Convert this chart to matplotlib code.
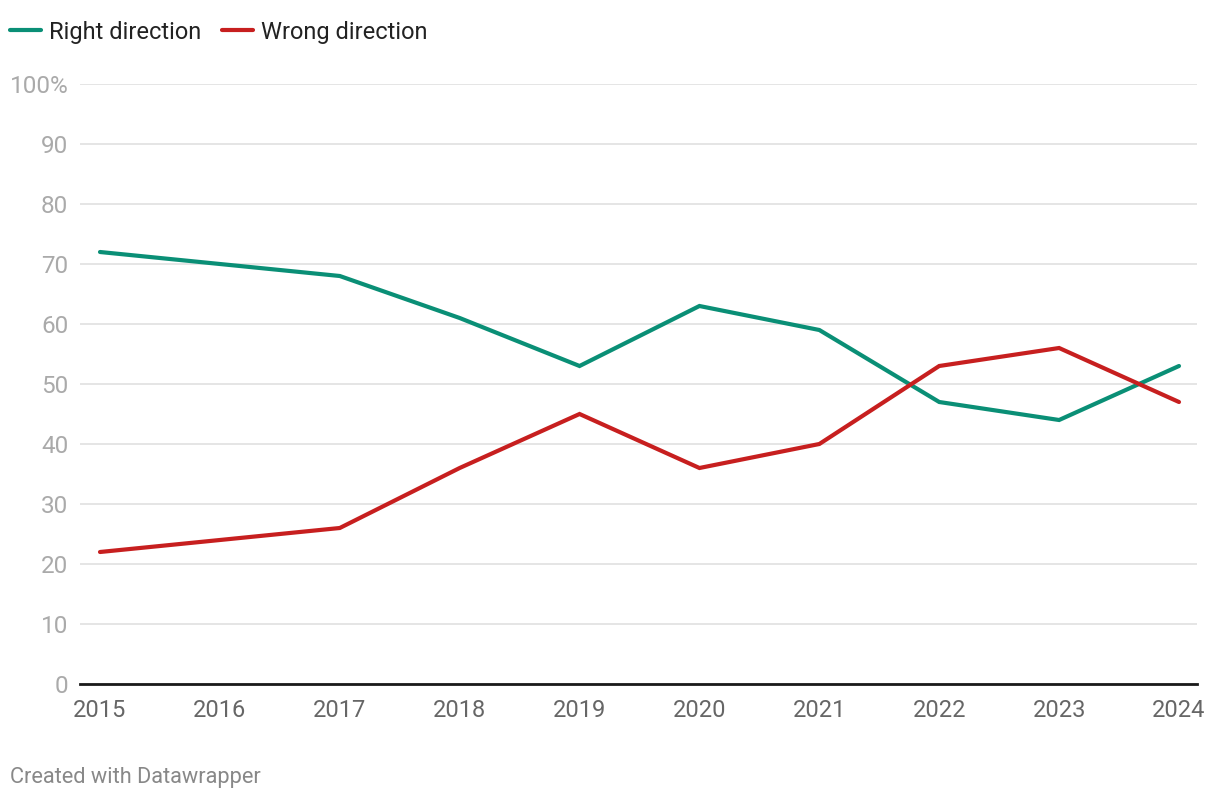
import matplotlib.pyplot as plt
import matplotlib.ticker as mticker

plt.rcParams['font.family'] = ['Roboto', 'DejaVu Sans']

years = [2015, 2016, 2017, 2018, 2019, 2020, 2021, 2022, 2023, 2024]
right_direction = [72, 70, 68, 61, 53, 63, 59, 47, 44, 53]
wrong_direction = [22, 24, 26, 36, 45, 36, 40, 53, 56, 47]
y_ticks = [0, 10, 20, 30, 40, 50, 60, 70, 80, 90, 100]

green = '#0a8f76'
red = '#c71f1f'

fig = plt.figure(figsize=(12.2, 8), dpi=100)
ax = fig.add_axes([80 / 1220, 116 / 800, 1117 / 1220, 600 / 800])

ax.plot(years, right_direction, color=green, lw=3, label='Right direction',
        solid_capstyle='round', solid_joinstyle='miter', zorder=3)
ax.plot(years, wrong_direction, color=red, lw=3, label='Wrong direction',
        solid_capstyle='round', solid_joinstyle='miter', zorder=3)

ax.set_xlim(2015 - 20 / 119.9, 2024 + 18 / 119.9)
ax.set_ylim(0, 100)
ax.set_xticks(years)
ax.set_yticks(y_ticks)
ax.yaxis.set_major_formatter(mticker.FuncFormatter(
    lambda v, p: f'{int(v)}%' if v == 100 else f'{int(v)}'))

ax.grid(axis='y', color='#e0e0e0', lw=1.2, zorder=0)
ax.grid(axis='x', visible=False)
for s in ['top', 'right', 'left']:
    ax.spines[s].set_visible(False)
ax.spines['bottom'].set_color('#1a1a1a')
ax.spines['bottom'].set_linewidth(2)
ax.spines['bottom'].set_zorder(4)

ax.tick_params(axis='y', length=0, pad=8.5, labelsize=17.5, labelcolor='#aaaaaa')
ax.tick_params(axis='x', length=0, pad=11, labelsize=17, labelcolor='#666666')

leg = fig.legend(loc='center left', bbox_to_anchor=(10 / 1220, 1 - 32 / 800), ncol=2,
                 frameon=False, fontsize=17, handlelength=1.3, handletextpad=0.34,
                 columnspacing=0.9, borderpad=0, borderaxespad=0)
for t in leg.get_texts():
    t.set_color('#222222')

fig.text(10 / 1220, 1 - 778 / 800, 'Created with Datawrapper', fontsize=15.7,
         color='#888888', va='center', ha='left')

fig.savefig('out.png', dpi=100)
